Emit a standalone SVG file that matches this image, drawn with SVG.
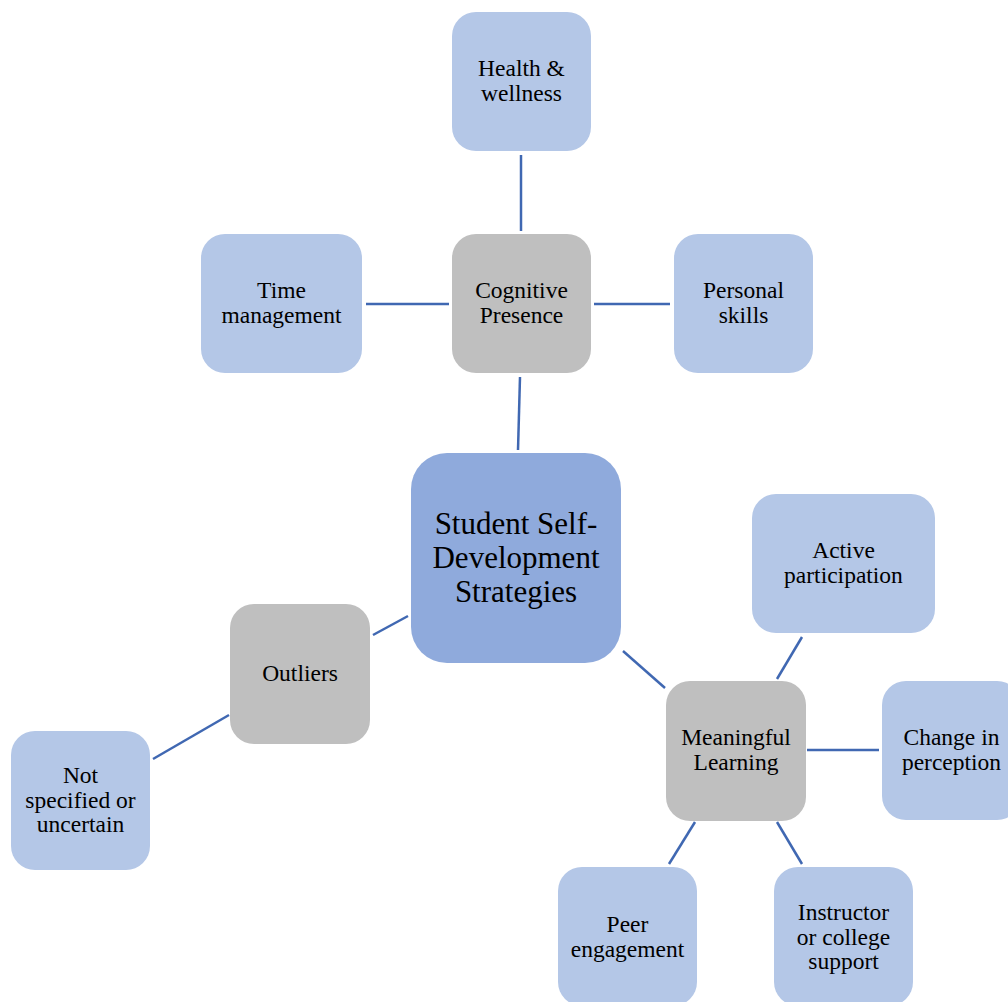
<svg xmlns="http://www.w3.org/2000/svg" width="1008" height="1002" viewBox="0 0 1008 1002">
  <style>
    .leaf { fill: #B4C7E7; }
    .hub { fill: #BFBFBF; }
    .root { fill: #8FAADC; }
    .lbl { font-family: "Liberation Serif", "Times New Roman", serif; font-size: 23.5px; fill: #000; text-anchor: middle; }
    .big { font-family: "Liberation Serif", "Times New Roman", serif; font-size: 31px; fill: #000; text-anchor: middle; }
    .link { stroke: #4068B2; stroke-width: 2.5; fill: none; }
  </style>
  <rect width="1008" height="1002" fill="#FFFFFF"/>

  <!-- connectors -->
  <g id="connectors">
    <line class="link" x1="521" y1="155" x2="521" y2="231"/>
    <line class="link" x1="366" y1="304" x2="449" y2="304"/>
    <line class="link" x1="594" y1="304" x2="670" y2="304"/>
    <line class="link" x1="520" y1="377" x2="518" y2="450"/>
    <line class="link" x1="408" y1="616" x2="373" y2="635"/>
    <line class="link" x1="229" y1="715" x2="153" y2="759"/>
    <line class="link" x1="623" y1="651" x2="665" y2="688"/>
    <line class="link" x1="777" y1="679" x2="802" y2="637"/>
    <line class="link" x1="807" y1="750" x2="879" y2="750"/>
    <line class="link" x1="695" y1="822" x2="669" y2="864"/>
    <line class="link" x1="777" y1="822" x2="802" y2="864"/>
  </g>

  <!-- central node -->
  <g id="node-root">
    <rect class="root" x="411" y="453" width="210" height="210" rx="36"/>
    <text class="big" x="516" y="534">Student Self-</text>
    <text class="big" x="516" y="568">Development</text>
    <text class="big" x="516" y="602">Strategies</text>
  </g>

  <!-- cognitive branch -->
  <g id="node-cognitive">
    <rect class="hub" x="452" y="234" width="139" height="139" rx="24"/>
    <text class="lbl" x="521.5" y="298">Cognitive</text>
    <text class="lbl" x="521.5" y="323">Presence</text>
  </g>
  <g id="node-health">
    <rect class="leaf" x="452" y="12" width="139" height="139" rx="24"/>
    <text class="lbl" x="521.5" y="76">Health &amp;</text>
    <text class="lbl" x="521.5" y="101">wellness</text>
  </g>
  <g id="node-time">
    <rect class="leaf" x="201" y="234" width="161" height="139" rx="24"/>
    <text class="lbl" x="281.5" y="298">Time</text>
    <text class="lbl" x="281.5" y="323">management</text>
  </g>
  <g id="node-personal">
    <rect class="leaf" x="674" y="234" width="139" height="139" rx="24"/>
    <text class="lbl" x="743.5" y="298">Personal</text>
    <text class="lbl" x="743.5" y="323">skills</text>
  </g>

  <!-- outliers branch -->
  <g id="node-outliers">
    <rect class="hub" x="230" y="604" width="140" height="140" rx="24"/>
    <text class="lbl" x="300" y="681">Outliers</text>
  </g>
  <g id="node-unspecified">
    <rect class="leaf" x="11" y="731" width="139" height="139" rx="24"/>
    <text class="lbl" x="80.5" y="783">Not</text>
    <text class="lbl" x="80.5" y="808">specified or</text>
    <text class="lbl" x="80.5" y="832">uncertain</text>
  </g>

  <!-- meaningful learning branch -->
  <g id="node-meaningful">
    <rect class="hub" x="666" y="681" width="140" height="140" rx="24"/>
    <text class="lbl" x="736" y="745">Meaningful</text>
    <text class="lbl" x="736" y="770">Learning</text>
  </g>
  <g id="node-active">
    <rect class="leaf" x="752" y="494" width="183" height="139" rx="24"/>
    <text class="lbl" x="843.5" y="558">Active</text>
    <text class="lbl" x="843.5" y="583">participation</text>
  </g>
  <g id="node-perception">
    <rect class="leaf" x="882" y="681" width="139" height="139" rx="24"/>
    <text class="lbl" x="951.5" y="745">Change in</text>
    <text class="lbl" x="951.5" y="770">perception</text>
  </g>
  <g id="node-peer">
    <rect class="leaf" x="558" y="867" width="139" height="139" rx="24"/>
    <text class="lbl" x="627.5" y="932">Peer</text>
    <text class="lbl" x="627.5" y="957">engagement</text>
  </g>
  <g id="node-instructor">
    <rect class="leaf" x="774" y="867" width="139" height="139" rx="24"/>
    <text class="lbl" x="843.5" y="920">Instructor</text>
    <text class="lbl" x="843.5" y="945">or college</text>
    <text class="lbl" x="843.5" y="969">support</text>
  </g>
</svg>
